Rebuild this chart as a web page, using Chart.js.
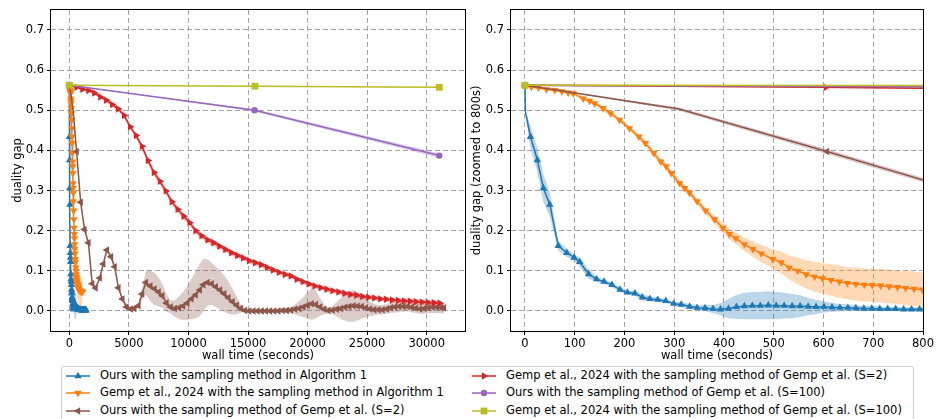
<!DOCTYPE html>
<html>
<head>
  <title>Duality gap vs wall time</title>
  <script src="https://cdn.jsdelivr.net/npm/chart.js@4.4.1/dist/chart.umd.min.js"></script>
  <style>
    body { margin: 0; background: #fff; font-family: 'DejaVu Sans', sans-serif; }
    #wrap { position: relative; width: 936px; height: 419px; overflow: hidden; }
    canvas.plot { position: absolute; top: 0; }
    #legend { position: absolute; left: 61px; top: 366px; width: 853px; height: 54px;
              border: 1px solid #cccccc; border-radius: 3px; box-sizing: border-box; }
    .sym { position: absolute; }
    .lbl { position: absolute; font-size: 11.5px; line-height: 1; white-space: nowrap;
           transform: translateY(-50%); color: #000; }
  </style>
</head>
<body>
  <div id="wrap">
    <canvas id="leftPlot" class="plot" width="470" height="365" style="left:0"></canvas>
    <canvas id="rightPlot" class="plot" width="466" height="365" style="left:470px"></canvas>
    <div id="legend"></div>
  </div>

  <script>
    // wall time (s), mean duality gap and std for each run
    const oursAlgTime = [0, 1, 11, 25, 37, 50, 67, 84, 99, 110, 128, 144, 159, 175, 191, 206, 221, 236, 251, 267,
      283, 299, 314, 331, 346, 362, 378, 393, 409, 425, 441, 457, 473, 489, 505, 521, 537, 553, 569, 585,
      601, 617, 633, 649, 665, 681, 697, 713, 729, 745, 761, 777, 793, 809, 840, 870, 900, 930, 960, 990,
      1020, 1050, 1080, 1110, 1140, 1170, 1200, 1230, 1260, 1290, 1320, 1350, 1380, 1400];
    const oursAlgGap = [0.562, 0.496, 0.434, 0.376, 0.306, 0.265, 0.162, 0.145, 0.133, 0.122,
      0.092, 0.079, 0.073, 0.065, 0.053, 0.046, 0.044, 0.034, 0.030, 0.028,
      0.025, 0.018, 0.016, 0.011, 0.008, 0.007, 0.005, 0.004, 0.006, 0.010,
      0.012, 0.013, 0.013, 0.014, 0.013, 0.013, 0.012, 0.012, 0.011, 0.010,
      0.010, 0.009, 0.008, 0.008, 0.007, 0.006, 0.006, 0.005, 0.005, 0.005,
      0.004, 0.004, 0.004, 0.004, 0.003, 0.003, 0.003, 0.002, 0.003, 0.002,
      0.002, 0.003, 0.002, 0.002, 0.002, 0.002, 0.002, 0.002, 0.002, 0.002,
      0.002, 0.002, 0.002, 0.002];
    const oursAlgStd = [0, 0.004, 0.028, 0.030, 0.034, 0.030, 0.012, 0.010, 0.008, 0.012,
      0.012, 0.006, 0.006, 0.006, 0.006, 0.005, 0.006, 0.008, 0.006, 0.005,
      0.005, 0.005, 0.006, 0.006, 0.006, 0.008, 0.010, 0.015, 0.024, 0.030,
      0.033, 0.034, 0.034, 0.035, 0.034, 0.032, 0.030, 0.027, 0.022, 0.018,
      0.014, 0.011, 0.009, 0.008, 0.007, 0.007, 0.006, 0.006, 0.005, 0.005,
      0.005, 0.005, 0.005, 0.005, 0.005, 0.005, 0.005, 0.005, 0.005, 0.005,
      0.005, 0.005, 0.005, 0.005, 0.005, 0.005, 0.005, 0.005, 0.005, 0.005,
      0.005, 0.005, 0.005, 0.005];

    const gempAlgTime = [0, 13, 27, 43, 60, 74, 87, 97, 117, 130, 140, 157, 172, 190, 210, 229, 242, 259, 273, 284,
      294, 311, 321, 331, 346, 363, 381, 398, 411, 424, 441, 458, 475, 498, 515, 531, 548, 565, 582, 598,
      615, 632, 648, 665, 682, 698, 715, 732, 749, 765, 782, 799, 830, 870, 910, 950, 990, 1030, 1070, 1110];
    const gempAlgGap = [0.562, 0.558, 0.556, 0.552, 0.550, 0.547, 0.544, 0.542, 0.529, 0.523,
      0.517, 0.505, 0.492, 0.476, 0.455, 0.434, 0.418, 0.393, 0.372, 0.360,
      0.343, 0.318, 0.306, 0.294, 0.273, 0.250, 0.228, 0.207, 0.191, 0.181,
      0.166, 0.154, 0.143, 0.129, 0.121, 0.108, 0.100, 0.091, 0.085, 0.081,
      0.077, 0.073, 0.069, 0.067, 0.065, 0.064, 0.063, 0.061, 0.059, 0.057,
      0.055, 0.053, 0.052, 0.051, 0.050, 0.049, 0.049, 0.048, 0.048, 0.047];
    const gempAlgStd = [0, 0.003, 0.003, 0.003, 0.004, 0.004, 0.004, 0.004, 0.005, 0.005,
      0.005, 0.006, 0.006, 0.006, 0.007, 0.007, 0.007, 0.008, 0.008, 0.008,
      0.008, 0.008, 0.008, 0.008, 0.008, 0.009, 0.010, 0.012, 0.013, 0.015,
      0.017, 0.019, 0.021, 0.024, 0.027, 0.030, 0.033, 0.035, 0.037, 0.038,
      0.039, 0.040, 0.040, 0.041, 0.041, 0.041, 0.042, 0.042, 0.042, 0.043,
      0.043, 0.043, 0.043, 0.042, 0.040, 0.038, 0.036, 0.034, 0.032, 0.030];

    const oursS2Time = [0, 310, 607, 950, 1270, 1600, 1920, 2200, 2550, 2850,
      3150, 3500, 3800, 4120, 4450, 4800, 5150, 5450, 5800, 6100,
      6430, 6800, 7150, 7500, 7800, 8150, 8500, 8850, 9200, 9550,
      9900, 10250, 10600, 10950, 11250, 11600, 11950, 12300, 12650, 13000,
      13350, 13700, 14050, 14400, 14750, 15100, 15450, 15800, 16150, 16500,
      16850, 17200, 17550, 17900, 18250, 18600, 18950, 19300, 19650, 20000,
      20350, 20700, 21050, 21400, 21750, 22100, 22450, 22800, 23150, 23500,
      23850, 24200, 24550, 24900, 25250, 25600, 25950, 26300, 26650, 27000,
      27350, 27700, 28050, 28400, 28750, 29100, 29450, 29800, 30150, 30500,
      30850, 31200, 31450];
    const oursS2Gap = [0.562, 0.503, 0.397, 0.271, 0.203, 0.170, 0.068, 0.057, 0.082, 0.117,
      0.152, 0.135, 0.110, 0.058, 0.030, 0.010, 0.005, 0.006, 0.013, 0.042,
      0.071, 0.062, 0.055, 0.047, 0.038, 0.020, 0.010, 0.006, 0.008, 0.012,
      0.020, 0.030, 0.040, 0.052, 0.065, 0.071, 0.068, 0.060, 0.052, 0.043,
      0.033, 0.023, 0.014, 0.006, 0.001, 0.000, 0.000, 0.000, 0.000, 0.000,
      0.000, 0.000, 0.000, 0.001, 0.001, 0.002, 0.004, 0.006, 0.010, 0.014,
      0.018, 0.016, 0.010, 0.004, 0.001, 0.002, 0.004, 0.006, 0.009, 0.011,
      0.013, 0.012, 0.011, 0.008, 0.005, 0.003, 0.003, 0.003, 0.005, 0.008,
      0.010, 0.011, 0.011, 0.011, 0.009, 0.007, 0.005, 0.006, 0.008, 0.009,
      0.009, 0.008, 0.008];
    const oursS2Std = [0, 0.004, 0.006, 0.005, 0.004, 0.004, 0.004, 0.004, 0.004, 0.005,
      0.006, 0.006, 0.005, 0.005, 0.005, 0.004, 0.004, 0.004, 0.006, 0.015,
      0.030, 0.038, 0.040, 0.036, 0.030, 0.022, 0.016, 0.020, 0.028, 0.035,
      0.042, 0.050, 0.058, 0.065, 0.065, 0.058, 0.052, 0.050, 0.048, 0.045,
      0.040, 0.032, 0.022, 0.010, 0.005, 0.003, 0.003, 0.003, 0.003, 0.003,
      0.003, 0.003, 0.004, 0.005, 0.006, 0.008, 0.012, 0.018, 0.025, 0.032,
      0.040, 0.034, 0.022, 0.012, 0.007, 0.010, 0.018, 0.026, 0.033, 0.038,
      0.040, 0.036, 0.030, 0.024, 0.018, 0.014, 0.012, 0.012, 0.012, 0.013,
      0.014, 0.014, 0.013, 0.012, 0.012, 0.012, 0.012, 0.013, 0.013, 0.014,
      0.014, 0.014, 0.014];

    const gempS2Time = [0, 605, 1100, 1600, 2100, 2600, 3100, 3600, 4100, 4600,
      5100, 5600, 6100, 6600, 7100, 7600, 8100, 8600, 9100, 9600,
      10100, 10600, 11100, 11600, 12100, 12600, 13100, 13600, 14100, 14600,
      15100, 15600, 16100, 16600, 17100, 17600, 18100, 18600, 19100, 19600,
      20100, 20600, 21100, 21600, 22100, 22600, 23100, 23600, 24100, 24600,
      25100, 25600, 26100, 26600, 27100, 27600, 28100, 28600, 29100, 29600,
      30100, 30600, 31100];
    const gempS2Gap = [0.562, 0.557, 0.552, 0.549, 0.543, 0.533, 0.525, 0.514, 0.503, 0.487,
      0.459, 0.437, 0.410, 0.375, 0.345, 0.323, 0.299, 0.272, 0.253, 0.236,
      0.220, 0.200, 0.187, 0.177, 0.170, 0.161, 0.153, 0.145, 0.138, 0.132,
      0.125, 0.120, 0.115, 0.108, 0.102, 0.096, 0.091, 0.087, 0.079, 0.073,
      0.067, 0.062, 0.058, 0.054, 0.050, 0.047, 0.044, 0.041, 0.039, 0.036,
      0.034, 0.032, 0.030, 0.029, 0.027, 0.026, 0.025, 0.024, 0.023, 0.022,
      0.021, 0.0205, 0.019];
    const gempS2Std = [0, 0.002, 0.003, 0.003, 0.003, 0.004, 0.004, 0.005, 0.005, 0.006,
      0.006, 0.007, 0.007, 0.008, 0.008, 0.008, 0.008, 0.008, 0.008, 0.008,
      0.008, 0.008, 0.008, 0.008, 0.008, 0.007, 0.007, 0.007, 0.007, 0.007,
      0.007, 0.007, 0.007, 0.007, 0.006, 0.006, 0.006, 0.006, 0.006, 0.006,
      0.006, 0.006, 0.006, 0.006, 0.006, 0.006, 0.006, 0.006, 0.006, 0.006,
      0.006, 0.006, 0.006, 0.006, 0.006, 0.006, 0.007, 0.007, 0.007, 0.007,
      0.007, 0.007, 0.007];

    const oursS100Time = [0, 15550, 31060];
    const oursS100Gap = [0.562, 0.500, 0.387];
    const oursS100Std = [0, 0.003, 0.006];

    const gempS100Time = [0, 15580, 31060];
    const gempS100Gap = [0.562, 0.560, 0.557];
    const gempS100Std = [0, 0.001, 0.001];

    const seriesLabels = [
      'Ours with the sampling method in Algorithm 1',
      'Gemp et al., 2024 with the sampling method in Algorithm 1',
      'Ours with the sampling method of Gemp et al. (S=2)',
      'Gemp et al., 2024 with the sampling method of Gemp et al. (S=2)',
      'Ours with the sampling method of Gemp et al. (S=100)',
      'Gemp et al., 2024 with the sampling method of Gemp et al. (S=100)'
    ];

    const leftTicks = [0, 5000, 10000, 15000, 20000, 25000, 30000];
    const rightTicks = [0, 100, 200, 300, 400, 500, 600, 700, 800];
    const gapTicks = [0, 0.1, 0.2, 0.3, 0.4, 0.5, 0.6, 0.7];

    const series = [
      { time: oursAlgTime, gap: oursAlgGap, std: oursAlgStd, color: '#1f77b4', shape: 'triangle', rot: 0, r: 4.3, skip: [1] },
      { time: gempAlgTime, gap: gempAlgGap, std: gempAlgStd, color: '#ff7f0e', shape: 'triangle', rot: 180, r: 4.3, skip: [] },
      { time: oursS2Time, gap: oursS2Gap, std: oursS2Std, color: '#8c564b', shape: 'triangle', rot: 270, r: 4.3, skip: [1] },
      { time: gempS2Time, gap: gempS2Gap, std: gempS2Std, color: '#d62728', shape: 'triangle', rot: 90, r: 4.3, skip: [] },
      { time: oursS100Time, gap: oursS100Gap, std: oursS100Std, color: '#9467bd', shape: 'circle', rot: 0, r: 3.2, skip: [] },
      { time: gempS100Time, gap: gempS100Gap, std: gempS100Std, color: '#bcbd22', shape: 'rect', rot: 0, r: 4.8, skip: [] }
    ];

    const font = { family: 'DejaVu Sans', size: 11.5 };

    function withAlpha(hex, a) {
      const n = parseInt(hex.slice(1), 16);
      return `rgba(${n >> 16}, ${(n >> 8) & 255}, ${n & 255}, ${a})`;
    }

    function buildDatasets() {
      const sets = [];
      series.forEach((s, i) => {
        const band = withAlpha(s.color, 0.3);
        sets.push({
          data: s.time.map((t, k) => ({ x: t, y: s.gap[k] + s.std[k] })),
          fill: '+1', backgroundColor: band, borderWidth: 0, pointRadius: 0, order: 100 - i
        });
        sets.push({
          data: s.time.map((t, k) => ({ x: t, y: s.gap[k] - s.std[k] })),
          fill: false, borderWidth: 0, pointRadius: 0, order: 100 - i
        });
        sets.push({
          data: s.time.map((t, k) => ({ x: t, y: s.gap[k] })),
          borderColor: s.color, backgroundColor: s.color, borderWidth: 1.5,
          pointStyle: s.shape, pointRotation: s.rot, pointBorderWidth: 0,
          pointRadius: ctx => s.skip.includes(ctx.dataIndex) ? 0 : s.r,
          fill: false, tension: 0, order: 10 - i
        });
      });
      return sets;
    }

    // black box around the axes, on top of the curves
    const frame = {
      id: 'frame',
      afterDatasetsDraw(chart) {
        const { ctx, chartArea: a } = chart;
        ctx.save();
        ctx.strokeStyle = '#000';
        ctx.lineWidth = 1;
        ctx.strokeRect(Math.round(a.left) - 0.5, Math.round(a.top) - 0.5,
          Math.round(a.right - a.left) + 1, Math.round(a.bottom - a.top) + 1);
        ctx.restore();
      }
    };

    function makeChart(id, xMin, xMax, xTicks, yTitle, yWidth, yTitlePad, padRight) {
      const ctx = document.getElementById(id).getContext('2d');
      const grid = { color: '#a4a4a4', lineWidth: 1, tickColor: '#000', tickLength: 4, tickWidth: 1, tickBorderDash: [] };
      return new Chart(ctx, {
        type: 'line',
        data: { datasets: buildDatasets() },
        plugins: [frame],
        options: {
          responsive: false,
          animation: false,
          devicePixelRatio: 1,
          layout: { padding: { left: 0, right: padRight, top: 7, bottom: 0 } },
          plugins: { legend: { display: false }, tooltip: { enabled: false } },
          scales: {
            x: {
              type: 'linear', min: xMin, max: xMax,
              afterBuildTicks: s => { s.ticks = xTicks.map(v => ({ value: v })); },
              afterFit: s => { s.height = 34; },
              ticks: { color: '#000', font, padding: 2, maxRotation: 0, autoSkip: false, callback: v => String(v) },
              grid,
              border: { display: false, dash: [5, 3] },
              title: { display: true, text: 'wall time (seconds)', color: '#000', font, padding: { top: 0, bottom: 2 } }
            },
            y: {
              type: 'linear', min: -0.05, max: 0.75,
              afterBuildTicks: s => { s.ticks = gapTicks.map(v => ({ value: v })); },
              afterFit: s => { s.width = yWidth; },
              ticks: { color: '#000', font, padding: 3, autoSkip: false, callback: v => v.toFixed(1) },
              grid,
              border: { display: false, dash: [5, 3] },
              title: { display: true, text: yTitle, color: '#000', font, padding: { top: yTitlePad, bottom: 0 } }
            }
          }
        }
      });
    }

    makeChart('leftPlot', -1540, 33215, leftTicks, 'duality gap', 51, 11, 5);
    makeChart('rightPlot', -28, 800, rightTicks, 'duality gap (zoomed to 800s)', 41, 0, 12);

    // legend shared by both panels, two columns
    function drawSymbol(c, s) {
      const g = c.getContext('2d');
      const y = c.height / 2;
      g.strokeStyle = s.color;
      g.lineWidth = 1.5;
      g.beginPath();
      g.moveTo(0, y);
      g.lineTo(c.width, y);
      g.stroke();
      g.fillStyle = s.color;
      const x = c.width / 2;
      g.beginPath();
      if (s.shape === 'circle') {
        g.arc(x, y, s.r, 0, Math.PI * 2);
      } else if (s.shape === 'rect') {
        const h = s.r * Math.SQRT1_2;
        g.rect(x - h, y - h, 2 * h, 2 * h);
      } else {
        let a = s.rot * Math.PI / 180;
        for (let k = 0; k < 3; k++) {
          const px = x + Math.sin(a) * s.r, py = y - Math.cos(a) * s.r;
          k === 0 ? g.moveTo(px, py) : g.lineTo(px, py);
          a += Math.PI * 2 / 3;
        }
        g.closePath();
      }
      g.fill();
    }

    const legend = document.getElementById('legend');
    const colX = [[4, 38], [410, 444]];
    const rowY = [8.5, 26, 43.5];
    series.forEach((s, i) => {
      const col = Math.floor(i / 3), row = i % 3;
      const c = document.createElement('canvas');
      c.className = 'sym';
      c.width = 24; c.height = 12;
      c.style.left = colX[col][0] + 'px';
      c.style.top = (rowY[row] - 6) + 'px';
      legend.appendChild(c);
      drawSymbol(c, s);
      const t = document.createElement('span');
      t.className = 'lbl';
      t.textContent = seriesLabels[i];
      t.style.left = colX[col][1] + 'px';
      t.style.top = rowY[row] + 'px';
      legend.appendChild(t);
    });
  </script>
</body>
</html>
